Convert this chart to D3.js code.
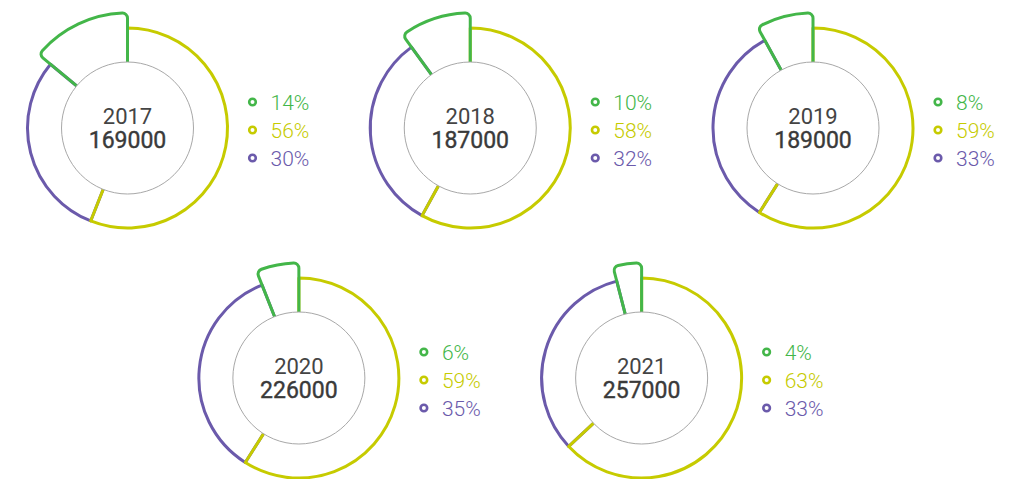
<!DOCTYPE html>
<html>
<head>
<meta charset="utf-8">
<script src="https://cdn.jsdelivr.net/npm/d3@7"></script>
<style>
  body { margin: 0; background: #fff; }
  .yearText { font-family: Roboto, "Liberation Sans", sans-serif; font-size: 22px; fill: #444; font-weight: 400; }
  .totalText { font-family: Roboto, "Liberation Sans", sans-serif; font-size: 23px; fill: #3a3a3a; font-weight: 400; stroke: #3a3a3a; stroke-width: 0.4px; }
  .legendText { font-family: Roboto, Lato, sans-serif; font-size: 21px; font-weight: 300; }
</style>
</head>
<body>
<div id="chart"></div>
<script>
// data
var years = ["2017", "2018", "2019", "2020", "2021"];
var totals = [169000, 187000, 189000, 226000, 257000];
var greenPct = [14, 10, 8, 6, 4];
var yellowPct = [56, 58, 59, 59, 63];
var purplePct = [30, 32, 33, 35, 33];

var colors = { green: "#43b649", yellow: "#c6cb00", purple: "#6b5aab" };

var svgWidth = 1016;
var svgHeight = 479;

var svg = d3.select("#chart")
  .append("svg")
  .attr("width", svgWidth)
  .attr("height", svgHeight);

// grid slots: top row 0,1,2 ; bottom row 0.5,1.5
var slotX = [0, 1, 2, 0.5, 1.5];
var slotRow = [0, 0, 0, 1, 1];

var xScale = d3.scaleLinear().domain([0, 2]).range([127.5, 813]);
var yScale = d3.scaleLinear().domain([0, 1]).range([128, 378]);

var innerR = 66;
var outerR = 100;
var bigR = 115;

var pie = d3.pie().sort(null).value(d => d.value);

var arcNormal = d3.arc().innerRadius(innerR - 6).outerRadius(outerR);
var arcBig = d3.arc().innerRadius(innerR - 6).outerRadius(bigR).cornerRadius(5);

years.forEach(function(year, i) {
  var values = [
    { key: "yellow", value: yellowPct[i] },
    { key: "purple", value: purplePct[i] },
    { key: "green", value: greenPct[i] }
  ];
  var arcs = pie(values);
  var drawOrder = ["purple", "yellow", "green"].map(k => arcs.find(a => a.data.key === k));

  var g = svg.append("g")
    .attr("transform", `translate(${xScale(slotX[i])}, ${yScale(slotRow[i])})`);

  g.selectAll("path")
    .data(drawOrder)
    .enter()
    .append("path")
    .attr("d", d => d.data.key === "green" ? arcBig(d) : arcNormal(d))
    .attr("fill", "none")
    .attr("stroke", d => colors[d.data.key])
    .attr("stroke-width", 3)
    .attr("stroke-linejoin", "round");

  g.append("circle")
    .attr("r", innerR)
    .attr("fill", "#fff")
    .attr("stroke", "#a8a8a8")
    .attr("stroke-width", 1);

  g.append("text")
    .attr("class", "yearText")
    .attr("text-anchor", "middle")
    .attr("y", -4)
    .text(year);

  g.append("text")
    .attr("class", "totalText")
    .attr("text-anchor", "middle")
    .attr("y", 20)
    .text(totals[i]);

  // legend
  var legendItems = [
    { key: "green", value: greenPct[i] },
    { key: "yellow", value: yellowPct[i] },
    { key: "purple", value: purplePct[i] }
  ];
  var legend = g.selectAll(".legend")
    .data(legendItems)
    .enter()
    .append("g")
    .attr("class", "legend")
    .attr("transform", (d, j) => `translate(125, ${-26 + j * 28})`);

  legend.append("circle")
    .attr("r", 3.3)
    .attr("fill", "none")
    .attr("stroke", d => colors[d.key])
    .attr("stroke-width", 2.6);

  legend.append("text")
    .attr("class", "legendText")
    .attr("x", 18)
    .attr("y", 7.5)
    .attr("fill", d => colors[d.key])
    .text(d => d.value + "%");
});
</script>
</body>
</html>
